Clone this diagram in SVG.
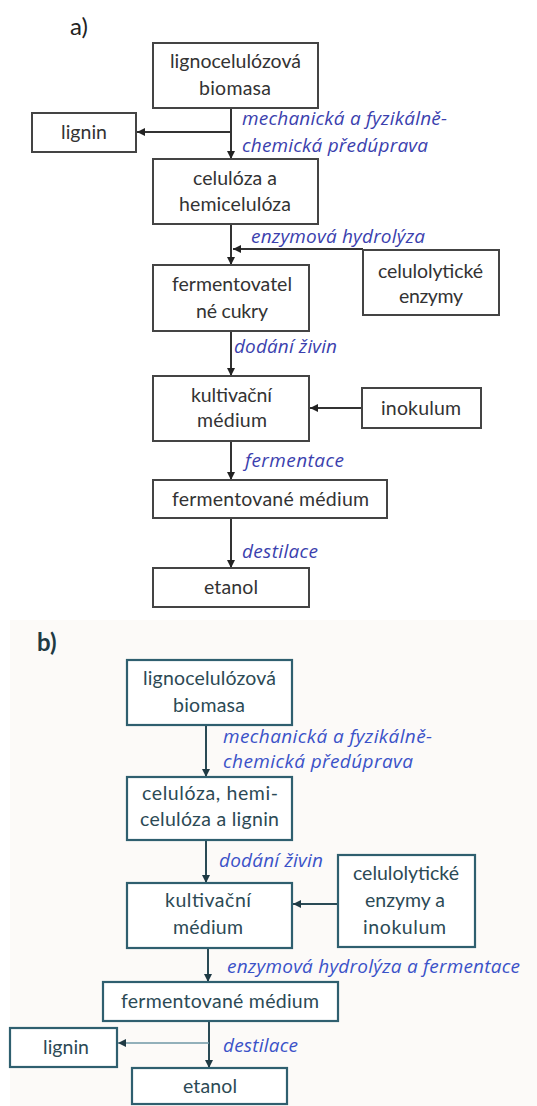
<svg xmlns="http://www.w3.org/2000/svg" width="537" height="1106" viewBox="0 0 537 1106">
<style>
.box{fill:#ffffff;stroke:#444444;stroke-width:2}
.boxb{fill:#ffffff;stroke:#2f5f6f;stroke-width:2.2}
.t{font-family:Lato,"Open Sans",sans-serif;font-size:19.5px;fill:#333333;text-anchor:middle}
.tb{font-family:Lato,"Open Sans",sans-serif;font-size:19.5px;fill:#2c4a55;text-anchor:middle}
.lab{font-family:"Open Sans",Lato,sans-serif;font-size:19px;font-style:italic;fill:#3b3fae}
.labb{font-family:"Open Sans",Lato,sans-serif;font-size:19px;font-style:italic;fill:#3a52c8}
.c{stroke:#333333;stroke-width:2;fill:none;marker-end:url(#ah)}
.cb{stroke:#2a4a55;stroke-width:2;fill:none;marker-end:url(#ahb)}
.head{font-family:Lato,"Open Sans",sans-serif;font-size:24px}
</style>
<defs>
<marker id="ah" viewBox="0 0 10 10" refX="10" refY="5" markerWidth="8" markerHeight="8" markerUnits="userSpaceOnUse" orient="auto">
<path d="M0,0 L10,5 L0,10 z" fill="#222222"/>
</marker>
<marker id="ahb" viewBox="0 0 10 10" refX="10" refY="5" markerWidth="8" markerHeight="8" markerUnits="userSpaceOnUse" orient="auto">
<path d="M0,0 L10,5 L0,10 z" fill="#1f3a44"/>
</marker>
</defs>
<rect x="0" y="0" width="537" height="1106" fill="#ffffff"/>
<rect x="10" y="620" width="527" height="486" fill="#fcfaf8"/>

<text class="head" x="70" y="35" fill="#222222">a)</text>
<text class="head" x="37" y="651" fill="#1f3a44" font-weight="bold">b)</text>

<g id="connectors-a">
<line class="c" x1="231" y1="108" x2="231" y2="159"/>
<line class="c" x1="231" y1="132" x2="137" y2="132"/>
<line class="c" x1="231" y1="224" x2="231" y2="265"/>
<line class="c" x1="363" y1="249" x2="233" y2="249"/>
<line class="c" x1="231" y1="331" x2="231" y2="376"/>
<line class="c" x1="362" y1="408" x2="310" y2="408"/>
<line class="c" x1="231" y1="441" x2="231" y2="480"/>
<line class="c" x1="231" y1="518" x2="231" y2="568"/>
</g>

<g id="labels-a">
<text class="lab" x="242" y="125" textLength="205">mechanická a fyzikálně-</text>
<text class="lab" x="242" y="152" textLength="186">chemická předúprava</text>
<text class="lab" x="251" y="243" textLength="174">enzymová hydrolýza</text>
<text class="lab" x="234" y="353" textLength="103">dodání živin</text>
<text class="lab" x="245" y="467" textLength="99">fermentace</text>
<text class="lab" x="242" y="558" textLength="76">destilace</text>
</g>

<g id="a-biomasa"><rect class="box" x="153" y="43" width="165" height="65"/><text class="t" x="235.5" y="68" textLength="131">lignocelulózová</text><text class="t" x="235" y="95" textLength="72">biomasa</text></g>
<g id="a-lignin"><rect class="box" x="32" y="113" width="104" height="39"/><text class="t" x="84" y="139" textLength="46">lignin</text></g>
<g id="a-celuloza"><rect class="box" x="153" y="159" width="165" height="65"/><text class="t" x="235" y="185" textLength="84">celulóza a</text><text class="t" x="235" y="211" textLength="112">hemicelulóza</text></g>
<g id="a-enzymy"><rect class="box" x="363" y="250" width="136" height="65"/><text class="t" x="430.5" y="278" textLength="105">celulolytické</text><text class="t" x="431" y="303" textLength="64">enzymy</text></g>
<g id="a-cukry"><rect class="box" x="153" y="265" width="156" height="66"/><text class="t" x="232" y="291" textLength="120">fermentovatel</text><text class="t" x="232" y="318" textLength="72">né cukry</text></g>
<g id="a-kultivacni"><rect class="box" x="153" y="376" width="156" height="65"/><text class="t" x="231.5" y="402" textLength="81">kultivační</text><text class="t" x="232" y="427" textLength="70">médium</text></g>
<g id="a-inokulum"><rect class="box" x="362" y="388" width="119" height="40"/><text class="t" x="421" y="415" textLength="80">inokulum</text></g>
<g id="a-fermentovane"><rect class="box" x="153" y="480" width="234" height="38"/><text class="t" x="270.5" y="506" textLength="197">fermentované médium</text></g>
<g id="a-etanol"><rect class="box" x="153" y="568" width="156" height="39"/><text class="t" x="231" y="594" textLength="54">etanol</text></g>

<g id="connectors-b">
<line class="cb" x1="206" y1="725" x2="206" y2="777"/>
<line class="cb" x1="206" y1="840" x2="206" y2="883"/>
<line class="cb" x1="338" y1="904" x2="293" y2="904"/>
<line class="cb" x1="208" y1="948" x2="208" y2="982"/>
<line class="cb" x1="209" y1="1021" x2="209" y2="1068"/>
<line class="cb" x1="209" y1="1043" x2="118" y2="1043" style="stroke:#6f97a6;stroke-width:1.6"/>
</g>

<g id="labels-b">
<text class="labb" x="223" y="743" textLength="209">mechanická a fyzikálně-</text>
<text class="labb" x="223" y="768" textLength="190">chemická předúprava</text>
<text class="labb" x="219" y="867" textLength="104">dodání živin</text>
<text class="labb" x="227" y="973" textLength="293">enzymová hydrolýza a fermentace</text>
<text class="labb" x="223" y="1052" textLength="75">destilace</text>
</g>

<g id="b-biomasa"><rect class="boxb" x="127" y="660" width="165" height="65"/><text class="tb" x="209.5" y="685" textLength="133">lignocelulózová</text><text class="tb" x="209" y="712" textLength="72">biomasa</text></g>
<g id="b-celuloza"><rect class="boxb" x="127" y="777" width="165" height="63"/><text class="tb" x="210" y="800" textLength="136">celulóza, hemi-</text><text class="tb" x="209.5" y="826" textLength="139">celulóza a lignin</text></g>
<g id="b-kultivacni"><rect class="boxb" x="127" y="883" width="165" height="65"/><text class="tb" x="208" y="907" textLength="86">kultivační</text><text class="tb" x="208" y="934" textLength="70">médium</text></g>
<g id="b-enzymy"><rect class="boxb" x="338" y="855" width="137" height="92"/><text class="tb" x="406" y="880" textLength="106">celulolytické</text><text class="tb" x="405" y="907" textLength="80">enzymy a</text><text class="tb" x="404.5" y="934" textLength="83">inokulum</text></g>
<g id="b-fermentovane"><rect class="boxb" x="103" y="982" width="235" height="39"/><text class="tb" x="220" y="1008" textLength="198">fermentované médium</text></g>
<g id="b-lignin"><rect class="boxb" x="10" y="1028" width="107" height="39"/><text class="tb" x="66" y="1054" textLength="46">lignin</text></g>
<g id="b-etanol"><rect class="boxb" x="132" y="1068" width="155" height="36"/><text class="tb" x="210" y="1093" textLength="54">etanol</text></g>
</svg>
